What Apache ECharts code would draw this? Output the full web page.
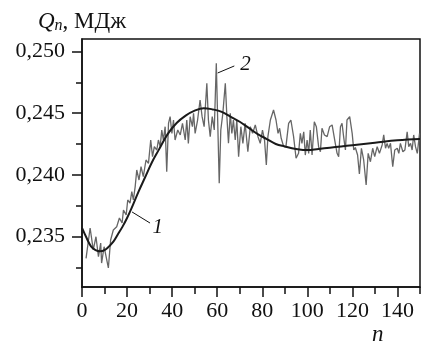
<!DOCTYPE html>
<html>
<head>
<meta charset="utf-8">
<script src="https://cdn.jsdelivr.net/npm/echarts@6/dist/echarts.min.js"></script>
<style>html,body{margin:0;padding:0;background:#fff}#c{width:423px;height:344px}</style>
</head>
<body>
<div id="c"></div>
<script>
// Curve 1: smooth fit (n, Q)
const fitN = [0,2,4,6,8,10,12,14,16,18,20,22,25,28,31,34,38,42,46,50,54,58,62,66,70,74,78,82,86,90,95,100,105,110,115,120,130,140,150];
const fitQ = [0.2357,0.2349,0.2342,0.2339,0.2338,0.2339,0.2342,0.2346,0.2352,0.2358,0.2365,0.2373,0.2386,0.2398,0.2410,0.2420,0.2433,0.2442,0.2448,0.2452,0.2454,0.2453,0.2451,0.2447,0.2443,0.2438,0.2433,0.2429,0.2425,0.2423,0.2421,0.2420,0.2421,0.2422,0.2423,0.2424,0.2426,0.2428,0.2429];

// Curve 2: measured (n, Q)
const measN = [1.8,3.6,5.0,6.2,7.3,8.3,8.7,9.8,11.7,12.7,13.9,15.4,16.6,17.8,18.4,19.6,20.3,21.3,22.1,22.8,23.6,24.3,25.3,26.2,27.2,28.4,29.5,30.5,31.3,32.1,33.2,33.9,34.7,35.4,36.1,36.9,37.6,38.4,39.1,39.9,40.6,41.3,42.5,43.6,44.6,45.8,46.5,47.2,48.0,49.0,49.5,50.2,51.3,52.4,53.3,54.2,55.4,56.1,56.9,57.8,58.7,59.6,60.9,61.6,62.5,63.6,64.3,65.0,65.8,66.5,67.2,68.0,68.7,69.5,70.5,71.4,72.4,73.6,74.7,75.7,76.9,78.1,79.1,80.1,81.0,81.8,82.5,83.6,85.0,86.1,87.0,87.7,88.4,89.5,90.5,91.7,92.7,93.9,95.0,96.1,96.9,97.6,98.4,99.1,99.9,100.6,101.3,102.1,103.1,104.0,105.0,105.8,106.5,107.6,108.8,109.9,111.0,111.7,112.4,113.2,113.9,114.7,115.4,116.1,116.9,117.6,118.8,119.9,120.6,121.3,122.3,123.1,124.0,125.0,126.1,127.0,128.0,129.0,129.9,131.0,132.0,133.2,133.9,134.7,135.4,136.1,136.9,137.9,138.8,139.9,140.6,141.3,142.4,143.3,144.3,145.0,145.8,146.5,147.2,148.0,148.8,149.8];
const measQ = [0.23323,0.23569,0.23391,0.23498,0.23336,0.23447,0.23285,0.23417,0.23245,0.23472,0.23553,0.23579,0.23650,0.23609,0.23715,0.23674,0.23796,0.23771,0.23863,0.23796,0.23904,0.24039,0.23958,0.24066,0.23985,0.24120,0.24093,0.24282,0.24147,0.24228,0.24201,0.24282,0.24228,0.24363,0.24282,0.24390,0.24025,0.24417,0.24471,0.24336,0.24444,0.24282,0.24363,0.24323,0.24417,0.24282,0.24444,0.24255,0.24471,0.24390,0.24498,0.24336,0.24444,0.24606,0.24471,0.24390,0.24742,0.24444,0.24309,0.24471,0.24363,0.24904,0.23931,0.24363,0.24498,0.24742,0.24471,0.24255,0.24498,0.24336,0.24444,0.24282,0.24444,0.24147,0.24390,0.24255,0.24417,0.24187,0.24390,0.24336,0.24404,0.24309,0.24255,0.24363,0.24282,0.24079,0.24309,0.24444,0.24525,0.24444,0.24336,0.24377,0.24296,0.24228,0.24228,0.24417,0.24444,0.24309,0.24134,0.24174,0.24336,0.24255,0.24349,0.24160,0.24282,0.24174,0.24363,0.24160,0.24430,0.24390,0.24228,0.24187,0.24377,0.24323,0.24309,0.24390,0.24404,0.24390,0.24255,0.24174,0.24147,0.24390,0.24417,0.24309,0.24201,0.24444,0.24471,0.24336,0.24201,0.24221,0.24160,0.24007,0.24215,0.24120,0.23917,0.24174,0.24106,0.24215,0.24147,0.24228,0.24174,0.24242,0.24323,0.24215,0.24255,0.24215,0.24255,0.24066,0.24201,0.24215,0.24174,0.24255,0.24187,0.24201,0.24349,0.24228,0.24255,0.24201,0.24323,0.24228,0.24174,0.24336];

// Axis ticks
const xMajor = [0,20,40,60,80,100,120,140];
const xMinor = [10,30,50,70,90,110,130,150];
const yMajor = [0.235,0.240,0.245,0.250];
const yMinor = [0.2325,0.2375,0.2425,0.2475];

// Annotation leaders (data space)
const lead1 = [[22.2,0.23699],[30.2,0.23609]];
const lead2 = [[60.2,0.24825],[67.6,0.24882]];
const labelPts = [[33.6,0.23577,'1'],[72.6,0.24890,'2']];

const FONT = 'Liberation Serif';
const chart = echarts.init(document.getElementById('c'), null, {renderer:'canvas'});
const yMin = 0.230908, yMax = 0.251005;
const baseX = {type:'value', min:0, max:150, position:'bottom', splitLine:{show:false}};
const baseY = {type:'value', min:yMin, max:yMax, position:'left', splitLine:{show:false}};
chart.setOption({
  animation:false,
  title:[
    {text:'{q|Q}{s|n}{t|, МДж}', left:33, top:4,
     textStyle:{fontWeight:'normal', rich:{
       q:{fontFamily:FONT,fontStyle:'italic',fontWeight:'normal',fontSize:23,color:'#111'},
       s:{fontFamily:FONT,fontStyle:'italic',fontWeight:'normal',fontSize:16,color:'#111',padding:[9,0,0,0]},
       t:{fontFamily:FONT,fontWeight:'normal',fontSize:23,color:'#111'}}}},
    {text:'n', left:367, top:318, textStyle:{fontFamily:FONT,fontStyle:'italic',fontSize:23,fontWeight:'normal',color:'#111'}}
  ],
  grid:{left:82, top:39, right:3, bottom:57, show:true, borderColor:'#111', borderWidth:1.5, containLabel:false},
  xAxis:[
    Object.assign({}, baseX, {
      axisLine:{lineStyle:{color:'#111',width:1.5}},
      axisTick:{show:true, inside:false, length:10, lineStyle:{color:'#111',width:1.5}, customValues:xMajor},
      axisLabel:{customValues:xMajor, margin:13, color:'#111', fontFamily:FONT, fontSize:22}
    }),
    Object.assign({}, baseX, {
      axisLine:{show:false},
      axisTick:{show:true, inside:false, length:7, lineStyle:{color:'#111',width:1.5}, customValues:xMinor},
      axisLabel:{show:false}
    })
  ],
  yAxis:[
    Object.assign({}, baseY, {
      axisLine:{show:true, lineStyle:{color:'#111',width:1.5}},
      axisTick:{show:true, inside:false, length:10, lineStyle:{color:'#111',width:1.5}, customValues:yMajor},
      axisLabel:{customValues:yMajor, margin:17, color:'#111', fontFamily:FONT, fontSize:22,
        formatter:v=>v.toFixed(3).replace('.',',')}
    }),
    Object.assign({}, baseY, {
      axisLine:{show:false},
      axisTick:{show:true, inside:false, length:6, lineStyle:{color:'#111',width:1.5}, customValues:yMinor},
      axisLabel:{show:false}
    })
  ],
  series:[
    {type:'line', data:measN.map((n,i)=>[n,measQ[i]]), showSymbol:false, symbol:'none',
     lineStyle:{color:'#666', width:1.3}, z:2},
    {type:'line', data:fitN.map((n,i)=>[n,fitQ[i]]), smooth:0.4, showSymbol:false, symbol:'none',
     lineStyle:{color:'#1a1a1a', width:2}, z:3},
    {type:'line', data:lead1, symbol:'none', lineStyle:{color:'#111',width:1}, z:4},
    {type:'line', data:lead2, symbol:'none', lineStyle:{color:'#111',width:1}, z:4},
    {type:'scatter', data:labelPts.map(p=>({value:[p[0],p[1]], name:p[2]})), symbolSize:0,
     itemStyle:{opacity:1},
     label:{show:true, position:'inside', formatter:p=>p.name, fontFamily:FONT, fontStyle:'italic', fontSize:21, color:'#111', opacity:1}, z:5}
  ]
});
</script>
</body>
</html>
